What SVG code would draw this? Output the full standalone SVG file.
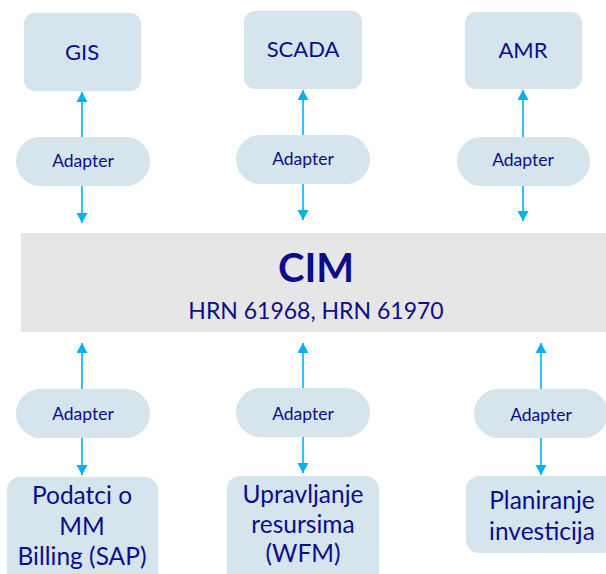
<svg xmlns="http://www.w3.org/2000/svg" width="606" height="574" viewBox="0 0 606 574">
  <style>
    .box { fill: #d5e4ed; }
    .pill { fill: #d5e4ed; }
    .band { fill: #e6e6e6; }
    .lbl { font-family: Lato, "Open Sans", "Liberation Sans", sans-serif; fill: #0d0d8c; text-anchor: middle; }
    .sys { font-size: 22px; }
    .ad { font-size: 17.5px; }
    .big { font-size: 24.5px; }
    .cim { font-size: 40px; font-weight: bold; }
    .std { font-size: 23px; }
    .conn line { stroke: #00b0f0; stroke-width: 1.6; fill: none; marker-end: url(#head); }
  </style>
  <defs>
    <marker id="head" markerUnits="userSpaceOnUse" markerWidth="11" markerHeight="12" refX="10" refY="5.5" orient="auto">
      <path d="M0,0 L10,5.5 L0,11 z" fill="#00b0f0"/>
    </marker>
  </defs>

  <rect class="band" x="21" y="233" width="590" height="99"/>

  <g id="cim">
    <text class="lbl cim" x="316" y="282">CIM</text>
    <text class="lbl std" x="316" y="319">HRN 61968, HRN 61970</text>
  </g>

  <g id="gis">
    <rect class="box" x="24" y="13" width="117" height="78" rx="11"/>
    <text class="lbl sys" x="82" y="60">GIS</text>
  </g>
  <g id="scada">
    <rect class="box" x="244" y="11" width="118" height="78" rx="11"/>
    <text class="lbl sys" x="303" y="57">SCADA</text>
  </g>
  <g id="amr">
    <rect class="box" x="465" y="12" width="117" height="77" rx="11"/>
    <text class="lbl sys" x="523" y="58">AMR</text>
  </g>

  <g id="adapter-gis">
    <rect class="pill" x="16" y="137" width="134" height="49" rx="24.5"/>
    <text class="lbl ad" x="83" y="167">Adapter</text>
  </g>
  <g id="adapter-scada">
    <rect class="pill" x="236" y="135" width="134" height="49" rx="24.5"/>
    <text class="lbl ad" x="303" y="165">Adapter</text>
  </g>
  <g id="adapter-amr">
    <rect class="pill" x="457" y="137" width="133" height="49" rx="24.5"/>
    <text class="lbl ad" x="523" y="166">Adapter</text>
  </g>

  <g id="adapter-billing">
    <rect class="pill" x="16" y="389" width="134" height="49" rx="24.5"/>
    <text class="lbl ad" x="83" y="420">Adapter</text>
  </g>
  <g id="adapter-wfm">
    <rect class="pill" x="236" y="388" width="134" height="49" rx="24.5"/>
    <text class="lbl ad" x="303" y="420">Adapter</text>
  </g>
  <g id="adapter-plan">
    <rect class="pill" x="474" y="389" width="134" height="49" rx="24.5"/>
    <text class="lbl ad" x="541" y="421">Adapter</text>
  </g>

  <g id="billing">
    <rect class="box" x="7" y="477" width="151" height="110" rx="13"/>
    <text class="lbl big" x="82" y="504">Podatci o</text>
    <text class="lbl big" x="82" y="535">MM</text>
    <text class="lbl big" x="82" y="565">Billing (SAP)</text>
  </g>
  <g id="wfm">
    <rect class="box" x="227" y="476" width="152" height="110" rx="13"/>
    <text class="lbl big" x="303" y="503">Upravljanje</text>
    <text class="lbl big" x="303" y="533">resursima</text>
    <text class="lbl big" x="303" y="562">(WFM)</text>
  </g>
  <g id="planning">
    <rect class="box" x="466" y="476" width="150" height="77" rx="13"/>
    <text class="lbl big" x="542" y="509">Planiranje</text>
    <text class="lbl big" x="542" y="540">investicija</text>
  </g>

  <g id="connectors" class="conn">
    <line x1="82" y1="137" x2="82" y2="92"/>
    <line x1="82" y1="186" x2="82" y2="223"/>
    <line x1="303" y1="135" x2="303" y2="90"/>
    <line x1="303" y1="184" x2="303" y2="220"/>
    <line x1="523" y1="137" x2="523" y2="90"/>
    <line x1="523" y1="186" x2="523" y2="221"/>
    <line x1="82" y1="389" x2="82" y2="343"/>
    <line x1="82" y1="438" x2="82" y2="475"/>
    <line x1="303" y1="388" x2="303" y2="343"/>
    <line x1="303" y1="437" x2="303" y2="473"/>
    <line x1="541" y1="389" x2="541" y2="343"/>
    <line x1="541" y1="438" x2="541" y2="475"/>
  </g>
</svg>
